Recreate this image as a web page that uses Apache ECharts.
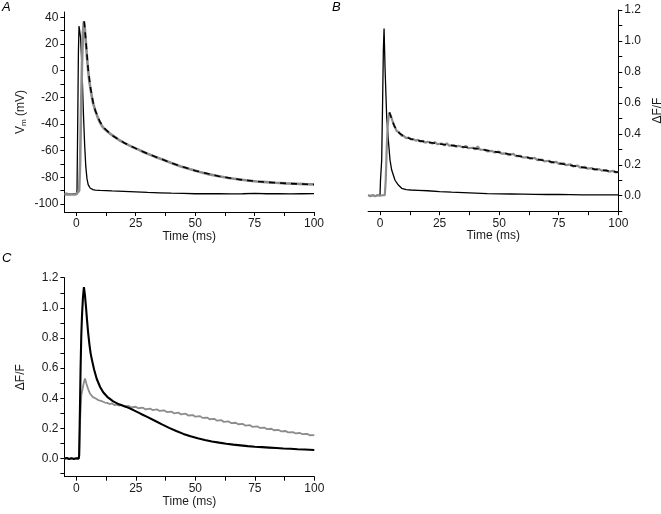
<!DOCTYPE html>
<html><head><meta charset="utf-8">
<script src="https://cdn.jsdelivr.net/npm/echarts@6/dist/echarts.min.js"></script>
<style>html,body{margin:0;padding:0;background:#fff}#c{width:661px;height:514px}</style>
</head><body><div id="c"></div>
<script>
// ---- tick labels ----
const timeTicks = [0, 25, 50, 75, 100];
const timeMinor = [12.5, 37.5, 62.5, 87.5];
const vmTicks = [-100, -80, -60, -40, -20, 0, 20, 40];
const vmMinor = [-90, -70, -50, -30, -10, 10, 30];
const dffTicks = [0, 0.2, 0.4, 0.6, 0.8, 1.0, 1.2];
const dffMinor = [-0.1, 0.1, 0.3, 0.5, 0.7, 0.9, 1.1];
const panelLabels = ['A', 'B', 'C'];

// ---- Panel A: membrane potential (mV) vs time (ms) ----
const aBlack = [[-5,-92.3],[-4,-92.1],[-3,-92.4],[-2,-92.2],[-1,-92.3],[0,-92.2],[0.3,-90],[0.6,-40],[0.9,15],[1.15,33.5],[1.4,32],[1.8,25],[2.2,10],[2.6,-10],[3,-32],[3.5,-55],[4,-72],[4.5,-81],[5,-85.5],[5.8,-88],[7,-89.2],[8,-89.6],[10,-89.8],[15,-90.2],[20,-90.5],[25,-90.9],[30,-91.3],[35,-91.6],[40,-91.9],[45,-92.1],[50,-92.3],[55,-92.3],[60,-92.2],[65,-92.4],[70,-92.3],[75,-92.1],[80,-92.3],[85,-92.2],[90,-92.4],[95,-92.3],[100,-92.2]];
const aGray = [[-5,-92.8],[-4,-92.6],[-3,-92.9],[-2,-92.7],[-1,-92.9],[0,-92.7],[0.8,-92.7],[1.2,-90],[1.6,-70],[2,-30],[2.4,5],[2.8,28],[3.2,37],[3.5,34],[4,22],[4.5,10],[5,0],[5.5,-8],[6,-14],[7,-24],[8,-30],[9,-35],[10,-39],[11,-42],[12,-44],[14,-47],[16,-49.5],[18,-52],[20,-54],[22,-55.8],[24,-57.5],[26,-59],[28,-60.8],[30,-62.3],[33,-64.5],[36,-66.5],[40,-69.3],[44,-71.8],[48,-74],[52,-76],[56,-77.8],[60,-79.2],[64,-80.5],[68,-81.5],[72,-82.4],[76,-83.1],[80,-83.6],[84,-84.1],[88,-84.5],[92,-84.8],[96,-85.1],[100,-85.3]];
const aFit = [[3.3,37],[4,23],[5,1],[6,-13],[7,-23],[8,-30],[10,-38.5],[12,-43.5],[15,-48.5],[20,-54],[25,-58.3],[30,-62.3],[35,-65.8],[40,-69.3],[50,-75],[60,-79.2],[70,-82],[80,-83.7],[90,-84.7],[100,-85.4]];

// ---- Panel B: dF/F vs time (ms) ----
const bBlack = [[-5,0.002],[-2,0.0],[0,0.003],[0.2,0.1],[0.4,0.15],[0.7,0.23],[1.1,0.62],[1.4,0.94],[1.7,1.08],[2.1,0.83],[2.8,0.51],[3.5,0.36],[4.2,0.23],[4.9,0.166],[6.3,0.10],[7.7,0.069],[9.1,0.048],[11,0.04],[13,0.037],[16,0.035],[20,0.032],[25,0.027],[30,0.023],[35,0.02],[40,0.017],[45,0.014],[50,0.012],[55,0.011],[60,0.01],[65,0.009],[70,0.008],[75,0.008],[80,0.007],[85,0.006],[90,0.006],[95,0.005],[100,0.005]];
const bGray = [[-5,0.003],[-4,-0.004],[-3,0.005],[-2,-0.003],[-1,0.004],[0,0.0],[1,0.003],[2,0.004],[2.4,0.1],[2.8,0.3],[3.2,0.45],[3.8,0.536],[4.5,0.52],[5.2,0.485],[6,0.452],[7,0.418],[8,0.41],[9,0.388],[10,0.385],[11,0.372],[12,0.376],[13,0.364],[14,0.366],[15,0.356],[16,0.361],[17,0.35],[18,0.355],[19,0.343],[20,0.349],[22,0.338],[23,0.346],[24,0.333],[26,0.337],[27,0.326],[28,0.338],[29,0.324],[31,0.327],[32,0.316],[33,0.323],[35,0.312],[36,0.322],[37,0.308],[39,0.31],[40,0.3],[41,0.318],[42,0.298],[44,0.297],[45,0.287],[47,0.29],[48,0.279],[50,0.285],[51,0.272],[53,0.274],[54,0.262],[56,0.27],[57,0.256],[59,0.258],[60,0.247],[62,0.25],[63,0.239],[65,0.244],[66,0.23],[68,0.233],[69,0.222],[71,0.226],[72,0.214],[74,0.219],[75,0.206],[77,0.21],[78,0.198],[80,0.202],[81,0.19],[83,0.194],[84,0.181],[86,0.186],[87,0.175],[89,0.178],[90,0.168],[92,0.172],[93,0.162],[95,0.165],[96,0.156],[98,0.16],[99,0.15],[100,0.153]];
const bFit = [[4,0.54],[5,0.49],[6,0.45],[8,0.405],[10,0.385],[13,0.366],[16,0.356],[20,0.346],[25,0.335],[30,0.325],[35,0.315],[40,0.305],[45,0.293],[50,0.28],[55,0.266],[60,0.251],[65,0.238],[70,0.224],[75,0.21],[80,0.196],[85,0.183],[90,0.172],[95,0.162],[100,0.152]];

// ---- Panel C: dF/F vs time (ms) ----
const cBlack = [[-5,0.0],[-4,0.004],[-3,-0.003],[-2,0.002],[-1,-0.002],[0,0.003],[1,0.0],[1.2,0.02],[1.5,0.3],[1.8,0.6],[2.1,0.82],[2.4,0.95],[2.8,1.07],[3.2,1.137],[3.6,1.09],[4.1,1.0],[4.5,0.92],[5,0.83],[5.5,0.76],[6,0.70],[6.5,0.66],[7.5,0.59],[8.6,0.528],[10,0.475],[11.3,0.44],[13,0.41],[15.5,0.38],[18,0.36],[21,0.343],[24,0.322],[27,0.298],[30,0.275],[33,0.251],[36,0.227],[39,0.204],[42,0.183],[45,0.164],[48,0.148],[51,0.135],[54,0.124],[57,0.114],[60,0.106],[63,0.099],[66,0.093],[69,0.088],[72,0.083],[75,0.079],[78,0.076],[81,0.073],[84,0.07],[87,0.067],[90,0.065],[93,0.062],[96,0.06],[100,0.057]];
const cGray = [[-5,0.0],[-4,0.004],[-3,-0.003],[-2,0.003],[-1,-0.002],[0,0.002],[1,0.0],[1.2,0.02],[1.6,0.25],[2.1,0.42],[2.6,0.46],[3.1,0.5],[3.65,0.532],[4.2,0.5],[5,0.46],[5.8,0.43],[7,0.408],[8,0.4],[9,0.39],[10,0.384],[11,0.379],[12,0.372],[13,0.37],[14,0.362],[15,0.366],[16,0.355],[17,0.358],[18,0.352],[19,0.356],[20,0.347],[22,0.349],[23,0.34],[25,0.344],[26,0.334],[28,0.338],[29,0.327],[31,0.332],[32,0.322],[34,0.326],[35,0.316],[37,0.32],[38,0.309],[40,0.312],[41,0.3],[43,0.305],[44,0.293],[46,0.298],[47,0.286],[49,0.289],[50,0.278],[52,0.282],[53,0.27],[55,0.272],[56,0.261],[58,0.264],[59,0.252],[61,0.255],[62,0.243],[64,0.247],[65,0.236],[67,0.238],[68,0.228],[70,0.23],[71,0.219],[73,0.222],[74,0.211],[76,0.214],[77,0.204],[79,0.206],[80,0.196],[82,0.198],[83,0.188],[85,0.19],[86,0.181],[88,0.183],[89,0.174],[91,0.176],[92,0.168],[94,0.17],[95,0.162],[97,0.164],[98,0.155],[100,0.156]];

const FONT = "'Liberation Sans', Arial, sans-serif";
const TXT = '#1a1a1a';
const GRAY = '#8c8c8c';

function xAx(gi) {
  return {
    type: 'value', gridIndex: gi, min: -5, max: 100,
    name: 'Time (ms)', nameLocation: 'middle', nameGap: 18,
    nameTextStyle: { fontFamily: FONT, fontSize: 12, color: TXT },
    axisLine: { show: true, onZero: false, lineStyle: { color: '#000', width: 1 } },
    axisTick: { show: true, length: 4, customValues: timeTicks.concat(timeMinor), lineStyle: { color: '#000' } },
    axisLabel: { customValues: timeTicks, margin: 6, fontFamily: FONT, fontSize: 12, color: TXT },
    splitLine: { show: false }
  };
}
function yAx(gi, min, max, ticks, minor, fmt, pos, name, gap, rich) {
  return {
    type: 'value', gridIndex: gi, min: min, max: max, position: pos,
    name: name, nameLocation: 'middle', nameGap: gap, nameRotate: 90,
    nameTextStyle: { fontFamily: FONT, fontSize: 12, color: TXT, rich: rich },
    axisLine: { show: true, onZero: false, lineStyle: { color: '#000', width: 1 } },
    axisTick: { show: true, length: 4, customValues: ticks.concat(minor), lineStyle: { color: '#000' } },
    axisLabel: { customValues: ticks, margin: 6, formatter: fmt, fontFamily: FONT, fontSize: 12, color: TXT },
    splitLine: { show: false }
  };
}
function line(data, xi, color, width, dashed, z) {
  return {
    type: 'line', xAxisIndex: xi, yAxisIndex: xi, data: data, showSymbol: false, symbol: 'none',
    lineStyle: { color: color, width: width, type: dashed ? [6, 5] : 'solid' },
    z: z, animation: false, silent: true
  };
}

const chart = echarts.init(document.getElementById('c'), null, { renderer: 'canvas' });
const f1 = v => v.toFixed(1);
chart.setOption({
  animation: false,
  backgroundColor: '#fff',
  grid: [
    { left: 64.4, top: 12, width: 249.6, height: 200, outerBoundsMode: 'none' },
    { left: 368.1, top: 10, width: 250.2, height: 201.2, outerBoundsMode: 'none' },
    { left: 64.4, top: 277.7, width: 249.9, height: 199, outerBoundsMode: 'none' }
  ],
  xAxis: [xAx(0), xAx(1), xAx(2)],
  yAxis: [
    yAx(0, -106, 44, vmTicks, vmMinor, v => String(v), 'left', '{a|V}{b|m}{a| (mV)}', 37,
        { a: { fontFamily: FONT, fontSize: 12, color: TXT }, b: { fontFamily: FONT, fontSize: 8, color: TXT, padding: [6, 0, 0, 0] } }),
    yAx(1, -0.1, 1.2, dffTicks, dffMinor, f1, 'right', 'ΔF/F', 33),
    yAx(2, -0.12, 1.2, dffTicks, dffMinor, f1, 'left', 'ΔF/F', 38)
  ],
  graphic: [
    { type: 'text', left: 2, top: 1, style: { text: panelLabels[0], font: 'italic 13px ' + FONT, fill: '#000' } },
    { type: 'text', left: 332, top: 1, style: { text: panelLabels[1], font: 'italic 13px ' + FONT, fill: '#000' } },
    { type: 'text', left: 2, top: 252, style: { text: panelLabels[2], font: 'italic 13px ' + FONT, fill: '#000' } }
  ],
  series: [
    line(aBlack, 0, '#000', 1.3, false, 2),
    line(aGray, 0, GRAY, 2.6, false, 3),
    line(aFit, 0, '#000', 1.6, true, 4),
    line(bBlack, 1, '#000', 1.3, false, 2),
    line(bGray, 1, GRAY, 2.2, false, 3),
    line(bFit, 1, '#000', 1.6, true, 4),
    line(cGray, 2, GRAY, 1.8, false, 2),
    line(cBlack, 2, '#000', 2.1, false, 3)
  ]
});
</script></body></html>
